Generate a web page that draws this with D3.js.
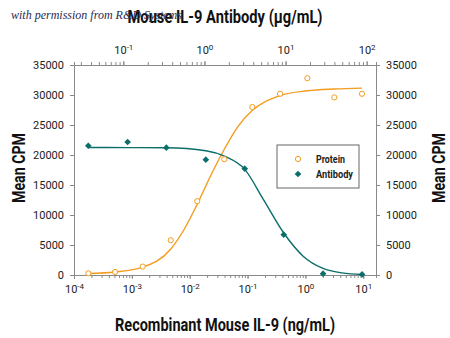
<!DOCTYPE html>
<html>
<head>
<meta charset="utf-8">
<script src="https://cdn.jsdelivr.net/npm/d3@7"></script>
<style>
  body { margin: 0; background: #fff; }
  svg text { font-family: "Roboto", "Liberation Sans", sans-serif; }
</style>
</head>
<body>
<div class="chart"></div>
<script>
// Protein (ng/mL, bottom axis) vs Mean CPM
var proteinConc = [0.000177, 0.000512, 0.00154, 0.00470, 0.0135, 0.0396, 0.121, 0.364, 1.08, 3.16, 9.5];
var proteinCPM  = [280, 500, 1400, 5800, 12300, 19300, 28000, 30200, 32800, 29600, 30200];

// Antibody (ug/mL, top axis) vs Mean CPM
var antibodyConc = [0.037, 0.113, 0.339, 1.04, 3.14, 9.5, 29, 87.7];
var antibodyCPM  = [21550, 22170, 21220, 19220, 17720, 6720, 220, 100];

// fitted curves
var proteinFitConc = [0.000177, 0.000512, 0.00155, 0.00468, 0.0079, 0.0135, 0.0229, 0.0398, 0.0676, 0.120, 0.363, 1.07, 3.16, 9.5];
var proteinFitCPM  = [250, 500, 1300, 4300, 7500, 11800, 16500, 21000, 24700, 27400, 29900, 30700, 31000, 31150];
var antibodyFitConc = [0.037, 0.113, 0.339, 1.04, 1.76, 3.14, 5.32, 9.5, 16.6, 29, 49.8, 87.7];
var antibodyFitCPM  = [21250, 21230, 21200, 20700, 19800, 17600, 12600, 7000, 3100, 1100, 350, 80];

var yTicks = [0, 5000, 10000, 15000, 20000, 25000, 30000, 35000];
var bottomTicks = [1e-4, 1e-3, 1e-2, 1e-1, 1e0, 1e1];
var topTicks = [1e-1, 1e0, 1e1, 1e2];

var orange = "#f39c1e", teal = "#0a6e6a", axisGray = "#8a8a8a";

var width = 450, height = 338;
var margin = {top: 65, right: 74, bottom: 63, left: 74};
var w = width - margin.left - margin.right,
    h = height - margin.top - margin.bottom;

var svg = d3.select(".chart").append("svg")
    .attr("width", width)
    .attr("height", height);

var g = svg.append("g")
    .attr("transform", `translate(${margin.left},${margin.top})`);

var x = d3.scaleLog().domain([1e-4, Math.pow(10, 1.22)]).range([0, w]);
var xTop = d3.scaleLog().domain([Math.pow(10, -1.608), Math.pow(10, 2.115)]).range([0, w]);
var y = d3.scaleLinear().domain([0, 35000]).range([h, 0]);

// minor ticks for log axes
function logTicks(scale) {
    var d = scale.domain(), out = [];
    for (var e = Math.floor(Math.log10(d[0])); e <= Math.ceil(Math.log10(d[1])); e++) {
        for (var m = 1; m < 10; m++) {
            var v = m * Math.pow(10, e);
            if (v >= d[0] && v <= d[1]) out.push(v);
        }
    }
    return out;
}

function superscript(sel) {
    sel.selectAll(".tick text").each(function(d) {
        var t = d3.select(this);
        var exp = Math.round(Math.log10(d));
        t.text(null);
        t.append("tspan").text("10");
        t.append("tspan").attr("dy", "-0.45em").style("font-size", "8px").text(exp);
    });
}

function styleAxis(sel) {
    sel.select(".domain").attr("stroke", axisGray);
    sel.selectAll(".tick line").attr("stroke", axisGray);
    sel.selectAll(".tick text").attr("fill", "#222").style("font-size", "11px");
}

// bottom axis: minor then major
g.append("g")
    .attr("transform", `translate(0,${h})`)
    .call(d3.axisBottom(x).tickValues(logTicks(x)).tickSize(3).tickFormat(""))
    .call(styleAxis);
g.append("g")
    .attr("transform", `translate(0,${h})`)
    .call(d3.axisBottom(x).tickValues(bottomTicks).tickSize(4).tickSizeOuter(0).tickPadding(6))
    .call(styleAxis)
    .call(superscript)
    .call(s => s.select(".domain").remove());

// top axis
g.append("g")
    .call(d3.axisTop(xTop).tickValues(logTicks(xTop)).tickSize(3).tickFormat(""))
    .call(styleAxis);
g.append("g")
    .call(d3.axisTop(xTop).tickValues(topTicks).tickSize(4).tickSizeOuter(0).tickPadding(7))
    .call(styleAxis)
    .call(superscript)
    .call(s => s.select(".domain").remove());

// left and right y axes
g.append("g")
    .call(d3.axisLeft(y).tickValues(yTicks).tickSize(4).tickSizeOuter(0).tickPadding(6).tickFormat(d3.format("d")))
    .call(styleAxis);
g.append("g")
    .attr("transform", `translate(${w},0)`)
    .call(d3.axisRight(y).tickValues(yTicks).tickSize(4).tickSizeOuter(0).tickPadding(6).tickFormat(d3.format("d")))
    .call(styleAxis);

// fitted curves
var proteinFit = proteinFitConc.map((c, i) => [c, proteinFitCPM[i]]);
var antibodyFit = antibodyFitConc.map((c, i) => [c, antibodyFitCPM[i]]);

g.append("path")
    .datum(proteinFit)
    .attr("fill", "none")
    .attr("stroke", orange)
    .attr("stroke-width", 1.4)
    .attr("d", d3.line().x(d => x(d[0])).y(d => y(d[1])).curve(d3.curveMonotoneX));

g.append("path")
    .datum(antibodyFit)
    .attr("fill", "none")
    .attr("stroke", teal)
    .attr("stroke-width", 1.4)
    .attr("d", d3.line().x(d => xTop(d[0])).y(d => y(d[1])).curve(d3.curveMonotoneX));

// data points
var protein = proteinConc.map((c, i) => ({c: c, v: proteinCPM[i]}));
var antibody = antibodyConc.map((c, i) => ({c: c, v: antibodyCPM[i]}));

g.selectAll(".protein")
    .data(protein)
    .join("circle")
    .attr("class", "protein")
    .attr("cx", d => x(d.c))
    .attr("cy", d => y(d.v))
    .attr("r", 2.6)
    .attr("fill", "#fff")
    .attr("stroke", orange)
    .attr("stroke-width", 1);

// square turned 45 degrees reads like the reference's diamonds
var diamond = d3.symbol().type(d3.symbolSquare).size(22);
g.selectAll(".antibody")
    .data(antibody)
    .join("path")
    .attr("class", "antibody")
    .attr("transform", d => `translate(${xTop(d.c)},${y(d.v)}) rotate(45)`)
    .attr("d", diamond)
    .attr("fill", teal);

// legend
var legend = g.append("g").attr("transform", "translate(203,80)");
legend.append("rect")
    .attr("width", 82).attr("height", 43)
    .attr("fill", "#fff").attr("stroke", "#666").attr("stroke-width", 1);
legend.append("circle")
    .attr("cx", 21).attr("cy", 14).attr("r", 2.6)
    .attr("fill", "#fff").attr("stroke", orange);
legend.append("path")
    .attr("transform", "translate(21,29) rotate(45)")
    .attr("d", diamond).attr("fill", teal);
legend.append("text").attr("x", 39).attr("y", 18)
    .attr("textLength", 29).attr("lengthAdjust", "spacingAndGlyphs")
    .style("font-size", "11px").style("font-weight", "bold").attr("fill", "#222").text("Protein");
legend.append("text").attr("x", 39).attr("y", 33)
    .attr("textLength", 37).attr("lengthAdjust", "spacingAndGlyphs")
    .style("font-size", "11px").style("font-weight", "bold").attr("fill", "#222").text("Antibody");

// axis titles
function title(sel, len) {
    sel.attr("text-anchor", "middle")
        .attr("textLength", len).attr("lengthAdjust", "spacingAndGlyphs")
        .style("font-size", "18px").style("font-weight", "bold").attr("fill", "#111");
}

svg.append("text")
    .attr("x", 225).attr("y", 23)
    .call(title, 195)
    .text("Mouse IL-9 Antibody (µg/mL)");

svg.append("text")
    .attr("x", 225).attr("y", 331)
    .call(title, 220)
    .text("Recombinant Mouse IL-9 (ng/mL)");

svg.append("text")
    .attr("transform", "translate(25,168) rotate(-90)")
    .call(title, 70)
    .text("Mean CPM");

svg.append("text")
    .attr("transform", "translate(445,168) rotate(-90)")
    .call(title, 70)
    .text("Mean CPM");

// watermark
svg.append("text")
    .attr("x", 11).attr("y", 19)
    .style("font-family", "'Liberation Serif', 'DejaVu Serif', serif")
    .style("font-style", "italic")
    .style("font-size", "12px")
    .attr("fill", "#2a2a50")
    .text("with permission from R&D Systems");
</script>
</body>
</html>
